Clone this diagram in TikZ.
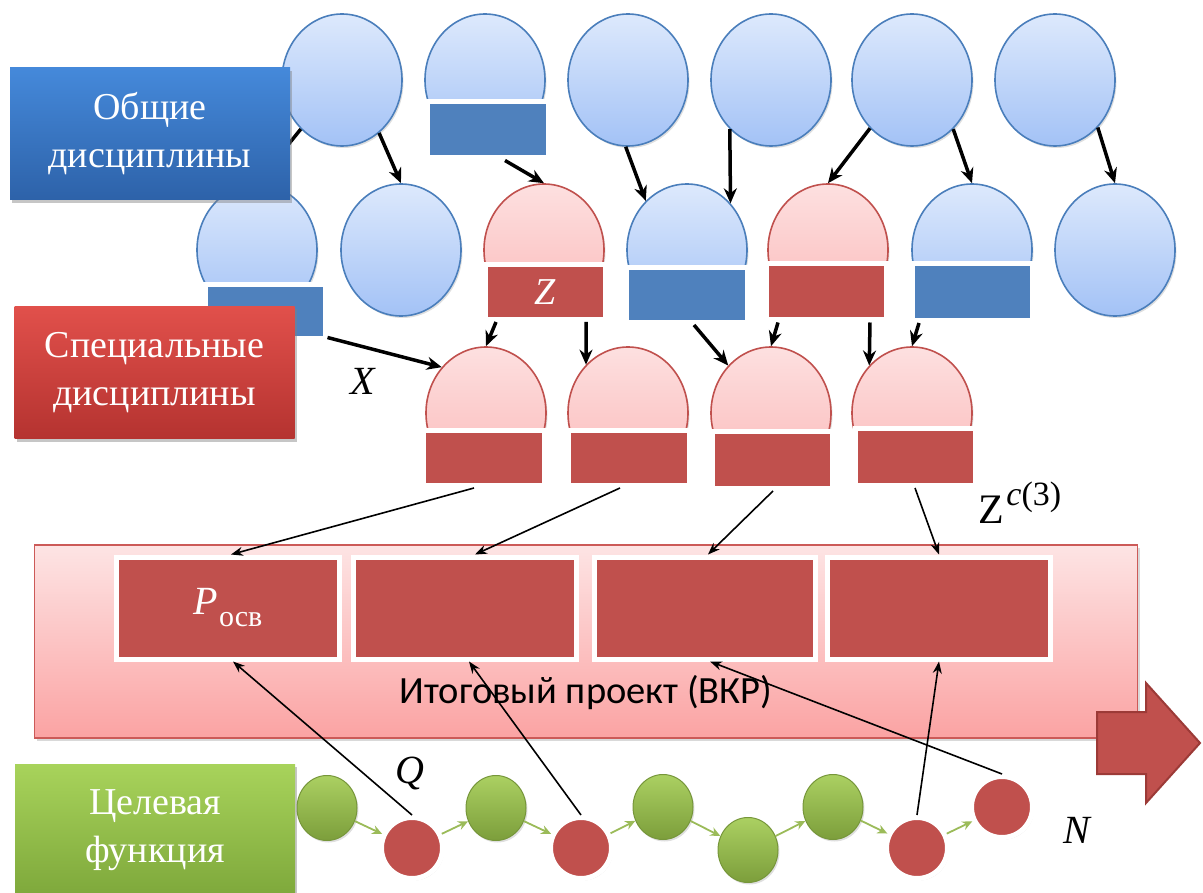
\documentclass[tikz,border=0pt]{standalone}
\usepackage{fontspec}
\setmainfont{Liberation Serif}
\newfontfamily\serfont{Liberation Serif}
\newfontfamily\calfont{Carlito}
\usetikzlibrary{shapes.geometric,arrows.meta,shadows}
\definecolor{blueT}{HTML}{DDE9FC}
\definecolor{blueB}{HTML}{A3C2F6}
\definecolor{blueBd}{HTML}{4A7EBB}
\definecolor{redT}{HTML}{FDE0E0}
\definecolor{redB}{HTML}{FBB9B9}
\definecolor{redBd}{HTML}{C0504D}
\definecolor{recBlue}{HTML}{4F81BD}
\definecolor{recRed}{HTML}{C0504D}
\definecolor{pinkT}{HTML}{FDE4E4}
\definecolor{pinkB}{HTML}{FBA3A3}
\definecolor{pinkBd}{HTML}{CC5A58}
\definecolor{boxBlueT}{HTML}{4589DA}
\definecolor{boxBlueB}{HTML}{2D62A9}
\definecolor{boxRedT}{HTML}{E1504B}
\definecolor{boxRedB}{HTML}{B53330}
\definecolor{boxGreenT}{HTML}{A8D35B}
\definecolor{boxGreenB}{HTML}{7EA83B}
\definecolor{ballT}{HTML}{ABD062}
\definecolor{ballB}{HTML}{7C9E3B}
\definecolor{ballBd}{HTML}{76963A}
\definecolor{greenArr}{HTML}{9BBB59}
\definecolor{bigArrBd}{HTML}{9C3A37}
\begin{document}
\begin{tikzpicture}[x=1pt,y=-1pt,
  shd/.style={drop shadow={opacity=0.25,shadow xshift=1.5pt,shadow yshift=-2pt}},
  ellB/.style={ellipse, draw=blueBd, line width=1.6pt, top color=blueT, bottom color=blueB, minimum width=120pt, minimum height=132pt, inner sep=0pt, shd},
  ellR/.style={ellB, draw=redBd, top color=redT, bottom color=redB},
  recB/.style={rectangle, draw=white, line width=5pt, fill=recBlue, inner sep=0pt, shd, text=white},
  recR/.style={recB, fill=recRed},
  lbl/.style={rectangle, inner sep=0pt, minimum width=280pt, minimum height=132pt, align=center, text=white, font=\serfont\fontsize{38}{48}\selectfont, drop shadow={opacity=0.45,shadow xshift=2pt,shadow yshift=-3pt}},
  thk/.style={-{Stealth[length=15pt,width=13pt]}, line width=3.5pt, black},
  thn/.style={-{Stealth[length=12pt,width=9pt]}, line width=1.6pt, black},
  grn/.style={-{Stealth[length=10pt,width=9pt]}, line width=1.8pt, greenArr},
  gball/.style={ellipse, draw=ballBd, line width=1pt, top color=ballT, bottom color=ballB, minimum width=60pt, minimum height=65pt, inner sep=0pt, shd},
  rball/.style={circle, draw=white, line width=5pt, fill=recRed, minimum size=61pt, inner sep=0pt, shd},
  mlab/.style={font=\serfont\fontsize{40}{40}\selectfont\itshape, inner sep=0pt}
]
\useasboundingbox (0,0) rectangle (1203,893);

% final project band
\node[rectangle, draw=pinkBd, line width=1.3pt, top color=pinkT, bottom color=pinkB, minimum width=1103pt, minimum height=193pt, inner sep=0pt, drop shadow={opacity=0.3,shadow xshift=2pt,shadow yshift=-3pt}] (proj) at (586,641.5) {};
\node[font=\calfont\fontsize{38.5}{38.5}\selectfont, inner sep=0pt] (ptxt) at (586,693) {Итоговый проект (ВКР)};

% big arrow
\path[draw=bigArrBd, line width=2pt, fill=recRed, line join=miter]
  (1097,712) -- (1146,712) -- (1146,683) -- (1200,743) -- (1146,803) -- (1146,774) -- (1097,774) -- cycle;

% row 1
\node[ellB] (a1) at (342,80) {};
\node[ellB] (a2) at (485,80) {};
\node[ellB] (a3) at (628,80) {};
\node[ellB] (a4) at (771,80) {};
\node[ellB] (a5) at (912,80) {};
\node[ellB] (a6) at (1055,80) {};
\node[recB, minimum width=121pt, minimum height=56pt] (r1) at (488,130) {};

% row 2
\node[ellB] (b1) at (257,250) {};
\node[ellB] (b2) at (401,250) {};
\node[ellR] (b3) at (544,250) {};
\node[ellB] (b4) at (687,250) {};
\node[ellR] (b5) at (828,250) {};
\node[ellB] (b6) at (972,250) {};
\node[ellB] (b7) at (1115,250) {};
\node[recB, minimum width=120pt, minimum height=54pt] (s1) at (265,312) {};
\node[recR, minimum width=120pt, minimum height=55pt, font=\serfont\fontsize{38}{38}\selectfont\itshape] (s2) at (545,292) {Z};
\node[recB, minimum width=121pt, minimum height=55pt] (s3) at (687,295) {};
\node[recR, minimum width=120pt, minimum height=56pt] (s4) at (826,292) {};
\node[recB, minimum width=120pt, minimum height=57pt] (s5) at (972,292) {};

% row 3
\node[ellR] (c1) at (486,413) {};
\node[ellR] (c2) at (628,413) {};
\node[ellR] (c3) at (771,413) {};
\node[ellR] (c4) at (912,413) {};
\node[recR, minimum width=121pt, minimum height=55pt] (q1) at (484,458) {};
\node[recR, minimum width=121pt, minimum height=55pt] (q2) at (629,458) {};
\node[recR, minimum width=120pt, minimum height=57pt] (q3) at (772,460) {};
\node[recR, minimum width=120pt, minimum height=57pt] (q4) at (915,457) {};

% inner project rects
\node[recR, minimum width=223pt, minimum height=102pt, font=\serfont] (p1) at (228,608) {\fontsize{40}{40}\selectfont\itshape P\kern1pt\raisebox{-0.3em}{\fontsize{30}{30}\selectfont\upshape осв}};
\node[recR, minimum width=223pt, minimum height=102pt] (p2) at (465,608) {};
\node[recR, minimum width=221pt, minimum height=102pt] (p3) at (705,608) {};
\node[recR, minimum width=223pt, minimum height=102pt] (p4) at (939,608) {};

% thick arrows
\draw[thk] (a1.-130) -- (b1.north);
\draw[thk] (a1.-55) -- (b2.north);
\draw[thk] ([xshift=17pt]r1.south) -- (b3.north);
\draw[thk] (a3.-92) -- (b4.130);
\draw[thk] (a4.-130) -- (b4.47);
\draw[thk] (a5.-131) -- (b5.north);
\draw[thk] (a5.-50) -- (b6.north);
\draw[thk] (a6.-48) -- (b7.north);
\draw[thk] ([yshift=4pt]s1.south east) -- (c1.134);
\draw[thk] ([xshift=-49pt]s2.south) -- (c1.north);
\draw[thk] ([xshift=41pt]s2.south) -- (c2.131);
\draw[thk] ([xshift=7pt]s3.south) -- (c3.132);
\draw[thk] ([xshift=-48pt]s4.south) -- (c3.north);
\draw[thk] ([xshift=44pt]s4.south) -- (c4.132);
\draw[thk] ([xshift=-53pt]s5.south) -- (c4.north);

% thin arrows to project
\draw[thn] ([xshift=-10pt]q1.south) -- ([xshift=3pt]p1.north);
\draw[thn] ([xshift=-9pt]q2.south) -- ([xshift=10pt]p2.north);
\draw[thn] ([xshift=1pt]q3.south) -- ([xshift=3pt]p3.north);
\draw[thn] (q4.south) -- (p4.north);

% target chain
\node[gball] (e1) at (327,808) {};
\node[rball] (e2) at (412,848) {};
\node[gball] (e3) at (496,808) {};
\node[rball] (e4) at (581,848) {};
\node[gball] (e5) at (663,807) {};
\node[gball] (e6) at (748,850) {};
\node[gball] (e7) at (833,807) {};
\node[rball] (e8) at (917,848) {};
\node[rball] (e9) at (1002,807) {};
\draw[grn] (e1) -- (e2);
\draw[grn] (e2) -- (e3);
\draw[grn] (e3) -- (e4);
\draw[grn] (e4) -- (e5);
\draw[grn] (e5) -- (e6);
\draw[grn] (e6) -- (e7);
\draw[grn] (e7) -- (e8);
\draw[grn] (e8) -- (e9);

\draw[thn] (e2.north) -- ([xshift=5pt]p1.south);
\draw[thn] (e4.north) -- ([xshift=4pt]p2.south);
\draw[thn] (e8.north) -- (p4.south);
\draw[thn] (e9.north) -- ([xshift=5pt]p3.south);

% math labels
\node[mlab] (lx) at (363,381) {X};
\node[mlab] (lq) at (410,773) {Q};
\node[mlab] (ln) at (1077,830) {N};
\node[inner sep=0pt, font=\serfont\fontsize{42}{42}\selectfont] (lz) at (1020,503) {Z\kern2pt\raisebox{0.42em}{\fontsize{34}{34}\selectfont\itshape c\upshape(3)}};

% category labels
\node[lbl, top color=boxBlueT, bottom color=boxBlueB] (gen) at (150,134) {Общие\\дисциплины};
\node[lbl, top color=boxRedT, bottom color=boxRedB] (spec) at (154.5,372.5) {Специальные\\дисциплины};
\node[lbl, top color=boxGreenT, bottom color=boxGreenB] (goal) at (155,830) {Целевая\\функция};
\end{tikzpicture}
\end{document}
